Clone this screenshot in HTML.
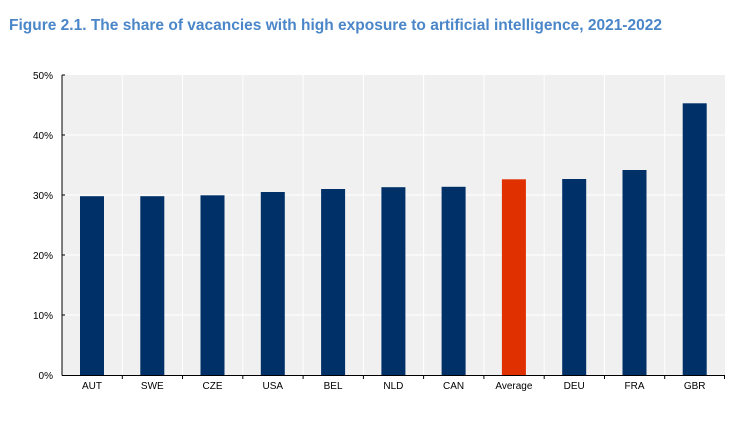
<!DOCTYPE html><html><head><style>body{margin:0;background:#fff;width:749px;height:433px;overflow:hidden}</style></head><body>
<svg width="749" height="433" xmlns="http://www.w3.org/2000/svg" font-family="Liberation Sans, Arial, sans-serif">
<text x="9" y="30" font-size="15.5" font-weight="bold" fill="#4a86c8">Figure 2.1. The share of vacancies with high exposure to artificial intelligence, 2021-2022</text>
<rect x="62" y="75" width="663" height="300" fill="#f0f0f0"/>
<g stroke="#fff" stroke-width="1">
<line x1="62" y1="135" x2="725" y2="135"/><line x1="62" y1="195" x2="725" y2="195"/><line x1="62" y1="255" x2="725" y2="255"/><line x1="62" y1="315" x2="725" y2="315"/>
<line x1="122.3" y1="75" x2="122.3" y2="375"/><line x1="182.5" y1="75" x2="182.5" y2="375"/><line x1="242.8" y1="75" x2="242.8" y2="375"/><line x1="303.1" y1="75" x2="303.1" y2="375"/><line x1="363.4" y1="75" x2="363.4" y2="375"/><line x1="423.6" y1="75" x2="423.6" y2="375"/><line x1="483.9" y1="75" x2="483.9" y2="375"/><line x1="544.2" y1="75" x2="544.2" y2="375"/><line x1="604.5" y1="75" x2="604.5" y2="375"/><line x1="664.7" y1="75" x2="664.7" y2="375"/>
</g>
<g fill="#003068">
<rect x="80" y="196.2" width="24" height="178.8"/>
<rect x="140.3" y="196.2" width="24" height="178.8"/>
<rect x="200.5" y="195.3" width="24" height="179.7"/>
<rect x="260.8" y="192" width="24" height="183"/>
<rect x="321.1" y="189" width="24" height="186"/>
<rect x="381.4" y="187.2" width="24" height="187.8"/>
<rect x="441.6" y="186.8" width="24" height="188.2"/>
<rect x="562.2" y="179" width="24" height="196"/>
<rect x="622.5" y="170" width="24" height="205"/>
<rect x="682.7" y="103.3" width="24" height="271.7"/>
</g>
<rect x="501.9" y="179.3" width="24" height="195.7" fill="#e03000"/>
<g stroke="#000" stroke-width="1">
<line x1="62" y1="75" x2="62" y2="375.5"/><line x1="62" y1="375.5" x2="725" y2="375.5"/>
<line x1="122.3" y1="375" x2="122.3" y2="379"/><line x1="182.5" y1="375" x2="182.5" y2="379"/><line x1="242.8" y1="375" x2="242.8" y2="379"/><line x1="303.1" y1="375" x2="303.1" y2="379"/><line x1="363.4" y1="375" x2="363.4" y2="379"/><line x1="423.6" y1="375" x2="423.6" y2="379"/><line x1="483.9" y1="375" x2="483.9" y2="379"/><line x1="544.2" y1="375" x2="544.2" y2="379"/><line x1="604.5" y1="375" x2="604.5" y2="379"/><line x1="664.7" y1="375" x2="664.7" y2="379"/><line x1="724.5" y1="375" x2="724.5" y2="379"/>
<line x1="62" y1="75" x2="65" y2="75"/><line x1="62" y1="135" x2="65" y2="135"/><line x1="62" y1="195" x2="65" y2="195"/><line x1="62" y1="255" x2="65" y2="255"/><line x1="62" y1="315" x2="65" y2="315"/>
</g>
<g font-size="10" fill="#000" text-anchor="end">
<text x="53" y="79">50%</text><text x="53" y="139">40%</text><text x="53" y="199">30%</text><text x="53" y="259">20%</text><text x="53" y="319">10%</text><text x="53" y="379">0%</text>
</g>
<g font-size="10" fill="#000" text-anchor="middle">
<text x="92" y="389">AUT</text><text x="152.3" y="389">SWE</text><text x="212.5" y="389">CZE</text><text x="272.8" y="389">USA</text><text x="333.1" y="389">BEL</text><text x="393.4" y="389">NLD</text><text x="453.6" y="389">CAN</text><text x="513.9" y="389">Average</text><text x="574.2" y="389">DEU</text><text x="634.5" y="389">FRA</text><text x="694.7" y="389">GBR</text>
</g>
</svg></body></html>
